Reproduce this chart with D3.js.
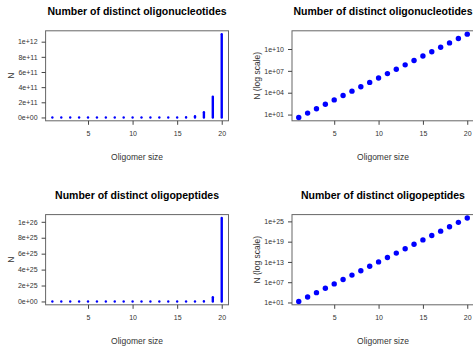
<!DOCTYPE html>
<html>
<head>
<meta charset="utf-8">
<script src="https://cdn.jsdelivr.net/npm/d3@7"></script>
<style>
  body { margin: 0; background: #fff; }
  svg { font-family: "Liberation Sans", Arial, sans-serif; }
</style>
</head>
<body>
<div id="chart"></div>
<script>
// oligomer sizes 1..20
var sizes = [1, 2, 3, 4, 5, 6, 7, 8, 9, 10, 11, 12, 13, 14, 15, 16, 17, 18, 19, 20];

// number of distinct oligonucleotides (4^k)
var nucleotides = [4, 16, 64, 256, 1024, 4096, 16384, 65536, 262144, 1048576,
  4194304, 16777216, 67108864, 268435456, 1073741824, 4294967296,
  17179869184, 68719476736, 274877906944, 1099511627776];

// number of distinct oligopeptides (20^k)
var peptides = [20, 400, 8000, 160000, 3.2e6, 6.4e7, 1.28e9, 2.56e10, 5.12e11, 1.024e13,
  2.048e14, 4.096e15, 8.192e16, 1.6384e18, 3.2768e19, 6.5536e20, 1.31072e22,
  2.62144e23, 5.24288e24, 1.048576e26];

var xTicks = [5, 10, 15, 20];
var nucLinTicks = [0, 2e11, 4e11, 6e11, 8e11, 1e12];
var nucLinLabels = ["0e+00", "2e+11", "4e+11", "6e+11", "8e+11", "1e+12"];
var nucLogTicks = [1e1, 1e4, 1e7, 1e10];
var nucLogLabels = ["1e+01", "1e+04", "1e+07", "1e+10"];
var pepLinTicks = [0, 2e25, 4e25, 6e25, 8e25, 1e26];
var pepLinLabels = ["0e+00", "2e+25", "4e+25", "6e+25", "8e+25", "1e+26"];
var pepLogTicks = [1e1, 1e7, 1e13, 1e19, 1e25];
var pepLogLabels = ["1e+01", "1e+07", "1e+13", "1e+19", "1e+25"];

var W = 473, H = 346;
var blue = "#0000ff";

var svg = d3.select("#chart").append("svg")
  .attr("width", W)
  .attr("height", H);

var panels = [
  { title: "Number of distinct oligonucleotides", values: nucleotides, log: false,
    ticks: nucLinTicks, labels: nucLinLabels, ylab: "N",
    box: { left: 45.6, right: 228.5, top: 30.8, bottom: 120.8 } },
  { title: "Number of distinct oligonucleotides", values: nucleotides, log: true,
    ticks: nucLogTicks, labels: nucLogLabels, ylab: "N (log scale)",
    box: { left: 292, right: 474, top: 30.8, bottom: 120.8 } },
  { title: "Number of distinct oligopeptides", values: peptides, log: false,
    ticks: pepLinTicks, labels: pepLinLabels, ylab: "N",
    box: { left: 45.6, right: 228.5, top: 214.6, bottom: 304.8 } },
  { title: "Number of distinct oligopeptides", values: peptides, log: true,
    ticks: pepLogTicks, labels: pepLogLabels, ylab: "N (log scale)",
    box: { left: 292, right: 474, top: 214.6, bottom: 304.8 } }
];

panels.forEach(function(p) {
  var b = p.box;
  var g = svg.append("g");

  // R style 4% padding on both axes
  var xs = d3.scaleLinear().domain([1 - 0.76, 20 + 0.76]).range([b.left, b.right]);
  var ys;
  if (p.log) {
    var lo = Math.log10(d3.min(p.values)), hi = Math.log10(d3.max(p.values));
    var pad = (hi - lo) * 0.04;
    ys = d3.scaleLog().domain([Math.pow(10, lo - pad), Math.pow(10, hi + pad)]).range([b.bottom, b.top]);
  } else {
    var mn = d3.min(p.values), mx = d3.max(p.values);
    var padl = (mx - mn) * 0.04;
    ys = d3.scaleLinear().domain([mn - padl, mx + padl]).range([b.bottom, b.top]);
  }

  // marks
  if (p.log) {
    g.selectAll("circle")
      .data(sizes)
      .enter().append("circle")
      .attr("cx", function(d) { return xs(d); })
      .attr("cy", function(d, i) { return ys(p.values[i]); })
      .attr("r", 2.7)
      .style("fill", blue);
  } else {
    g.selectAll("line.bar")
      .data(sizes)
      .enter().append("line")
      .attr("class", "bar")
      .attr("x1", function(d) { return xs(d); })
      .attr("x2", function(d) { return xs(d); })
      .attr("y1", ys(0))
      .attr("y2", function(d, i) { return ys(p.values[i]); })
      .style("stroke", blue)
      .style("stroke-width", 2.4)
      .style("stroke-linecap", "round");
  }

  // box
  g.append("rect")
    .attr("x", b.left)
    .attr("y", b.top)
    .attr("width", b.right - b.left)
    .attr("height", b.bottom - b.top)
    .style("fill", "none")
    .style("stroke", "#666")
    .style("stroke-width", 1);

  // axes
  var xAxis = g.append("g")
    .attr("transform", "translate(0," + b.bottom + ")")
    .call(d3.axisBottom(xs).tickValues(xTicks).tickSize(4).tickPadding(6).tickFormat(d3.format("d")));
  var yAxis = g.append("g")
    .attr("transform", "translate(" + b.left + ",0)")
    .call(d3.axisLeft(ys).tickValues(p.ticks).tickSize(4).tickPadding(4)
      .tickFormat(function(d, i) { return p.labels[i]; }));

  [xAxis, yAxis].forEach(function(a) {
    a.select(".domain").remove();
    a.selectAll("line").style("stroke", "#444");
    a.selectAll("text").style("font-size", "7px").style("fill", "#333");
  });

  // title
  g.append("text")
    .attr("x", (b.left + b.right) / 2)
    .attr("y", b.top - 16)
    .attr("text-anchor", "middle")
    .style("font-size", "10.5px")
    .style("font-weight", "bold")
    .text(p.title);

  // x label
  g.append("text")
    .attr("x", (b.left + b.right) / 2)
    .attr("y", b.bottom + 39.5)
    .attr("text-anchor", "middle")
    .style("font-size", "8.5px")
    .style("fill", "#333")
    .text("Oligomer size");

  // y label
  g.append("text")
    .attr("transform", "translate(" + (b.left - 32) + "," + ((b.top + b.bottom) / 2) + ") rotate(-90)")
    .attr("text-anchor", "middle")
    .style("font-size", "8.5px")
    .style("fill", "#333")
    .text(p.ylab);
});
</script>
</body>
</html>
